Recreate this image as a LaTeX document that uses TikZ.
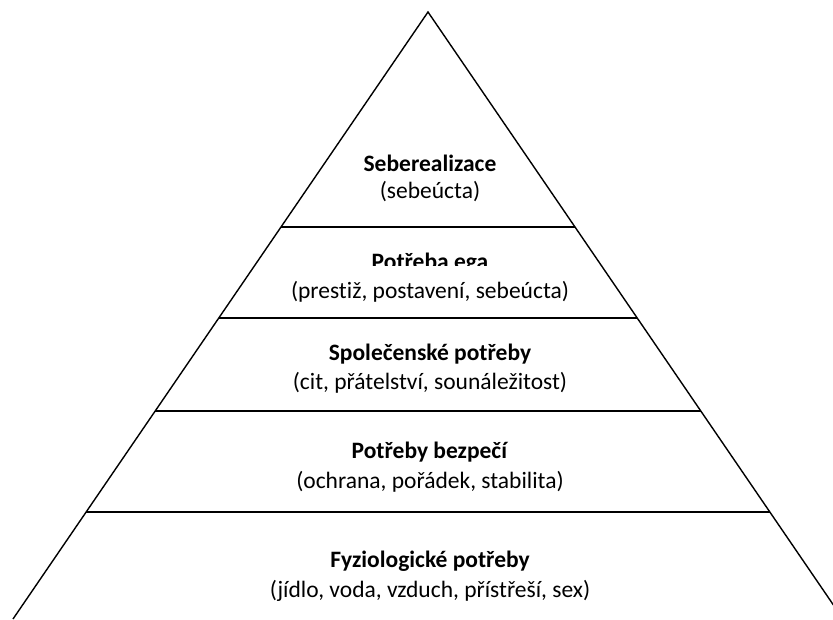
\documentclass[tikz,border=0pt]{standalone}
\usepackage{fontspec}
\setmainfont{Carlito}[Ligatures=NoCommon]
\usepackage{tikz}
\usetikzlibrary{positioning,calc}

\begin{document}
\begin{tikzpicture}[x=1pt,y=1pt,font=\fontsize{23.5}{28}\selectfont]
    \useasboundingbox (0,0) rectangle (833,619);
    \clip (0,0) rectangle (833,619);
    \coordinate (Top) at (428,607);
    \coordinate (BL) at (13,0);
    \coordinate (BR) at (843,0);
    \draw[line width=1.4pt, line join=miter] (BL) -- (Top) -- (BR);
    \foreach \t in {0.354,0.504,0.657,0.824} {
        \draw[line width=1.6pt] ($(Top)!\t!(BL)$) -- ($(Top)!\t!(BR)$);
    }
    \foreach \a/\b/\y [count=\i] in {Seberealizace/(sebeúcta)/441, Potřeba ega/{(prestiž, postavení, sebeúcta)}/341, Společenské potřeby/{(cit, přátelství, sounáležitost)}/250, Potřeby bezpečí/{(ochrana, pořádek, stabilita)}/151.5, Fyziologické potřeby/{(jídlo, voda, vzduch, přístřeší, sex)}/42.5} {
        \node (Sub\i) at (430,\y-14) {\b};
        \ifnum\i=2
            \begin{scope}
                \clip (0,353) rectangle (833,619);
                \node (Title\i) at (430,\y+15) {\textbf{\a}};
            \end{scope}
        \else
            \node (Title\i) at (430,\y+15) {\textbf{\a}};
        \fi
    }
\end{tikzpicture}
\end{document}
